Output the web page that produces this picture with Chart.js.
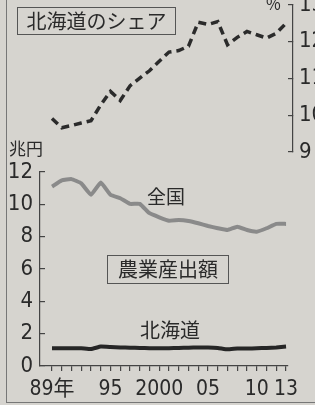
<!DOCTYPE html>
<html>
<head>
<meta charset="utf-8">
<script src="https://cdn.jsdelivr.net/npm/chart.js@4/dist/chart.umd.min.js"></script>
<style>
  body { margin: 0; background: #d6d4cf; }
  #wrap { position: relative; width: 315px; height: 405px; overflow: hidden; background: #d6d4cf;
          font-family: "Noto Sans CJK JP", sans-serif; color: #2a2a2a; }
  canvas { position: absolute; left: 0; top: 0; }
  .lbl { position: absolute; white-space: nowrap; line-height: 1; }
  .box { position: absolute; border: 1.5px solid #555; box-sizing: border-box; text-align: center; }
  .frameL { position: absolute; left: 6px; top: 0; width: 1px; height: 403px; background: #777; }
  .frameB { position: absolute; left: 6px; top: 402px; width: 309px; height: 1px; background: #777; }
</style>
</head>
<body>
<div id="wrap">
  <div class="frameL"></div>
  <div class="frameB"></div>
  <canvas id="topChart" width="315" height="405"></canvas>
  <canvas id="bottomChart" width="315" height="405"></canvas>
  <div class="box" style="left:17px;top:7px;width:159px;height:28px;font-size:20px;line-height:25px;">北海道のシェア</div>
  <div class="box" style="left:107px;top:255px;width:122px;height:29px;font-size:20px;line-height:26px;">農業産出額</div>
  <div class="lbl" style="left:147px;top:186px;font-size:19px;">全国</div>
  <div class="lbl" style="left:140px;top:320px;font-size:20px;">北海道</div>
  <div class="lbl" style="left:9px;top:139px;font-size:17px;">兆円</div>
  <div class="lbl" style="left:266px;top:-5px;font-size:16px;">%</div>
</div>
<script>
const years = [1989, 1990, 1991, 1992, 1993, 1994, 1995, 1996, 1997, 1998, 1999, 2000,
               2001, 2002, 2003, 2004, 2005, 2006, 2007, 2008, 2009, 2010, 2011, 2012, 2013];

// Hokkaido share of national output (%)
const share = [9.91, 9.66, 9.72, 9.79, 9.85, 10.28, 10.65, 10.40, 10.80, 11.01, 11.21, 11.47,
               11.72, 11.76, 11.88, 12.53, 12.47, 12.55, 11.92, 12.12, 12.28, 12.19, 12.10, 12.23, 12.50];

// agricultural output, trillion yen
const national = [11.1, 11.48, 11.56, 11.3, 10.59, 11.35, 10.59, 10.38, 10.03, 10.03, 9.45, 9.2,
                  8.99, 9.03, 8.97, 8.83, 8.66, 8.52, 8.41, 8.62, 8.41, 8.31, 8.52, 8.79, 8.79];
const hokkaido = [1.1, 1.1, 1.1, 1.1, 1.05, 1.2, 1.18, 1.15, 1.13, 1.12, 1.1, 1.1,
                  1.1, 1.12, 1.13, 1.15, 1.15, 1.12, 1.03, 1.08, 1.08, 1.1, 1.12, 1.15, 1.2];

const xTickYears = [1989, 1995, 2000, 2005, 2010, 2013];
const xTickText = ['89年', '95', '2000', '05', '10', '13'];
const shareTicks = [9, 10, 11, 12, 13];
const yenTicks = [0, 2, 4, 6, 8, 10, 12];

const numFont = '"Liberation Sans Narrow", "DejaVu Sans Condensed", "Noto Sans CJK JP", sans-serif';
const ink = '#2a2a2a';

function pts(vals) {
    return years.map((y, i) => ({ x: y, y: vals[i] }));
}

function noPad(scale) {
    scale.paddingTop = 0;
    scale.paddingBottom = 0;
    scale.paddingLeft = 0;
    scale.paddingRight = 0;
}

// top chart: share, right axis
new Chart(document.getElementById('topChart'), {
    type: 'line',
    data: {
        datasets: [{
            data: pts(share),
            borderColor: '#2b2b2b',
            borderWidth: 3.5,
            borderDash: [8, 5],
            pointRadius: 0,
            tension: 0
        }]
    },
    options: {
        responsive: false,
        animation: false,
        layout: { padding: { left: 40, top: 5, right: 0, bottom: 253 } },
        plugins: { legend: { display: false }, tooltip: { enabled: false } },
        scales: {
            x: {
                type: 'linear', display: false,
                min: 1987.77, max: 2013.72
            },
            y: {
                position: 'right',
                min: 9, max: 13,
                afterBuildTicks: s => { s.ticks = shareTicks.map(v => ({ value: v })); },
                afterFit: s => { s.width = 22; noPad(s); },
                border: { display: true, color: '#444', width: 1.2 },
                grid: { drawOnChartArea: false, tickLength: -5, color: '#444', lineWidth: 1.2 },
                ticks: { color: ink, padding: 11, font: { family: numFont, size: 22 } }
            }
        }
    }
});

// bottom chart: output values
new Chart(document.getElementById('bottomChart'), {
    type: 'line',
    data: {
        datasets: [{
            data: pts(national),
            borderColor: '#8a8a8a',
            borderWidth: 4,
            pointRadius: 0,
            tension: 0.1
        }, {
            data: pts(hokkaido),
            borderColor: '#262626',
            borderWidth: 4,
            pointRadius: 0,
            tension: 0.1
        }]
    },
    options: {
        responsive: false,
        animation: false,
        layout: { padding: { left: 0, top: 172, right: 27, bottom: 0 } },
        plugins: { legend: { display: false }, tooltip: { enabled: false } },
        scales: {
            x: {
                type: 'linear',
                min: 1987.77, max: 2013.2,
                afterBuildTicks: s => { s.ticks = years.map(v => ({ value: v })); },
                afterFit: s => { s.height = 39; noPad(s); },
                border: { display: true, color: '#444', width: 1.2 },
                grid: { drawOnChartArea: false, tickLength: 5, color: '#444', lineWidth: 1.2 },
                ticks: {
                    color: ink, padding: 6, maxRotation: 0, autoSkip: false,
                    font: { family: numFont, size: 21 },
                    callback: v => {
                        const k = xTickYears.indexOf(v);
                        return k >= 0 ? xTickText[k] : '';
                    }
                }
            },
            y: {
                min: 0, max: 12,
                afterBuildTicks: s => { s.ticks = yenTicks.map(v => ({ value: v })); },
                afterFit: s => { s.width = 40; noPad(s); },
                border: { display: true, color: '#444', width: 1.2 },
                grid: { drawOnChartArea: false, tickLength: -5, color: '#444', lineWidth: 1.2 },
                ticks: { color: ink, padding: 12, font: { family: numFont, size: 22 } }
            }
        }
    }
});
</script>
</body>
</html>
